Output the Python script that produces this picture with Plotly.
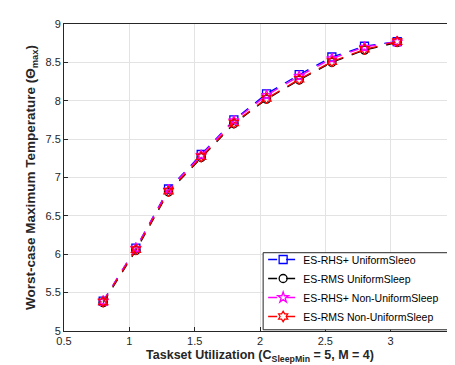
import plotly.graph_objects as go

util = [0.8, 1.05, 1.3, 1.55, 1.8, 2.05, 2.3, 2.55, 2.8, 3.05]
rhs_uniform = [5.39, 6.08, 6.85, 7.30, 7.75, 8.09, 8.34, 8.57, 8.71, 8.77]
rms_uniform = [5.37, 6.05, 6.81, 7.26, 7.70, 8.02, 8.27, 8.50, 8.66, 8.76]
rhs_nonuniform = [5.39, 6.08, 6.84, 7.29, 7.74, 8.07, 8.32, 8.55, 8.70, 8.77]
rms_nonuniform = [5.38, 6.06, 6.82, 7.27, 7.71, 8.03, 8.28, 8.51, 8.67, 8.77]

names = ["ES-RHS+ UniformSleeo", "ES-RMS UniformSleep",
         "ES-RHS+ Non-UniformSleep", "ES-RMS Non-UniformSleep"]
series = [rhs_uniform, rms_uniform, rhs_nonuniform, rms_nonuniform]
colors = ["#0000FF", "#000000", "#FF00FF", "#FF0000"]
symbols = ["square-open", "circle-open", "star-open", "hexagram-open"]

FONT = "Arial"

fig = go.Figure()
for n, s, c, m in zip(names, series, colors, symbols):
    fig.add_trace(go.Scatter(
        x=util, y=s, name=n, mode="lines+markers",
        line=dict(color=c, width=1.3, dash="dash"),
        marker=dict(symbol=m, size=8, color=c, line=dict(color=c, width=1.3)),
    ))

axis_common = dict(
    showgrid=True, gridcolor="#E3E3E3", gridwidth=1,
    showline=True, linecolor="#262626", linewidth=1, mirror=True,
    ticks="inside", ticklen=4, tickcolor="#262626",
    tickfont=dict(family=FONT, size=11, color="#262626"),
    zeroline=False,
)

fig.update_layout(
    width=455, height=365,
    margin=dict(l=56, r=7, t=16, b=42),
    paper_bgcolor="white", plot_bgcolor="white",
    font=dict(family=FONT),
    xaxis=dict(range=[0.5, 3.5], dtick=0.5,
               title=dict(text="<b>Taskset Utilization (C<sub>SleepMin</sub> = 5, M = 4)</b>",
                          font=dict(family=FONT, size=12.5, color="#262626"),
                          standoff=4),
               **axis_common),
    yaxis=dict(range=[5, 9], dtick=0.5,
               title=dict(text="<b>Worst-case Maximum Temperature (Θ<sub>max</sub>)</b>",
                          font=dict(family=FONT, size=13.5, color="#262626"),
                          standoff=6),
               **axis_common),
    legend=dict(x=0.508, y=0.0, xanchor="left", yanchor="bottom",
                borderwidth=0, bgcolor="rgba(0,0,0,0)",
                font=dict(family=FONT, size=10.5, color="#000000"),
                tracegroupgap=0),
    shapes=[dict(type="rect", xref="paper", yref="paper",
                 x0=0.508, x1=0.997, y0=0.004, y1=0.255,
                 fillcolor="white", line=dict(color="#262626", width=1),
                 layer="above")],
    showlegend=True,
)

fig.write_html("out.html")
